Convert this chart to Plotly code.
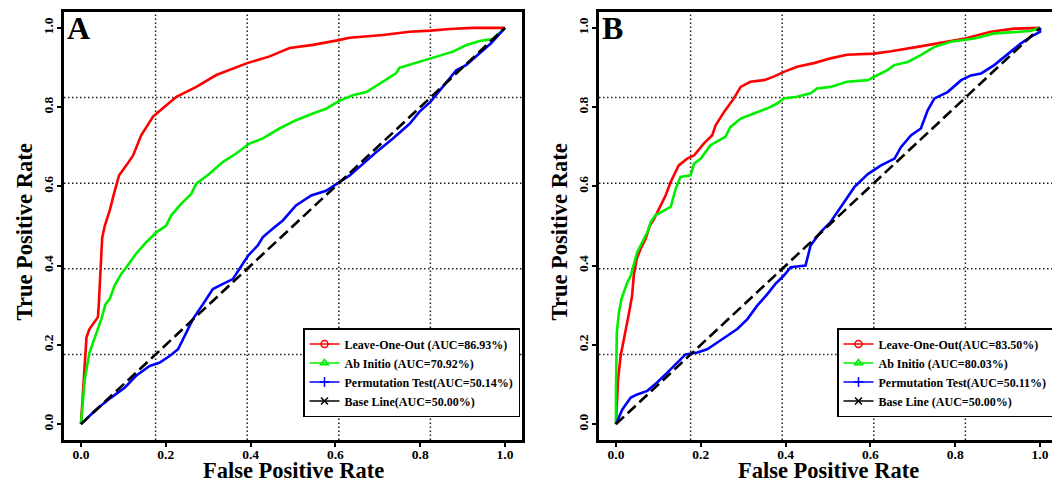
import plotly.graph_objects as go

# ---------------- data ----------------
TICKS = [0.0, 0.2, 0.4, 0.6, 0.8, 1.0]
TICK_TEXT = ["0.0", "0.2", "0.4", "0.6", "0.8", "1.0"]
AX_RANGE = [-0.04, 1.04]
GRID = [-0.04 + 1.08 * k / 5 for k in range(1, 5)]   # R grid(5,5) positions
X_TITLE = "False Positive Rate"
Y_TITLE = "True Positive Rate"

# Panel A
A_LOO_FPR = [0, 0.006, 0.013, 0.020, 0.032, 0.040, 0.042, 0.046, 0.050, 0.056, 0.068, 0.079, 0.090, 0.107,
             0.123, 0.142, 0.170, 0.193, 0.225, 0.272, 0.319, 0.392, 0.445, 0.492, 0.547, 0.608, 0.633,
             0.712, 0.775, 0.824, 0.869, 0.924, 1.0]
A_LOO_TPR = [0, 0.113, 0.219, 0.240, 0.260, 0.270, 0.300, 0.400, 0.470, 0.500, 0.540, 0.586, 0.628, 0.653,
             0.678, 0.729, 0.776, 0.797, 0.826, 0.851, 0.881, 0.911, 0.928, 0.949, 0.957, 0.969, 0.975,
             0.982, 0.990, 0.993, 0.997, 1.0, 1.0]
A_ABI_FPR = [0, 0.009, 0.020, 0.036, 0.048, 0.058, 0.068, 0.079, 0.095, 0.107, 0.130, 0.154, 0.178, 0.201,
             0.213, 0.236, 0.260, 0.272, 0.303, 0.335, 0.366, 0.397, 0.429, 0.468, 0.507, 0.547, 0.578,
             0.608, 0.641, 0.673, 0.704, 0.743, 0.751, 0.798, 0.824, 0.853, 0.877, 0.908, 0.940, 0.971, 1.0]
A_ABI_TPR = [0, 0.113, 0.180, 0.231, 0.265, 0.303, 0.316, 0.349, 0.379, 0.396, 0.430, 0.459, 0.484, 0.501,
             0.527, 0.556, 0.581, 0.607, 0.632, 0.662, 0.683, 0.708, 0.721, 0.746, 0.767, 0.784, 0.796,
             0.815, 0.830, 0.838, 0.859, 0.885, 0.899, 0.914, 0.923, 0.931, 0.940, 0.956, 0.967, 0.972, 1.0]
A_PERM_FPR = [0, 0.036, 0.071, 0.103, 0.130, 0.162, 0.185, 0.209, 0.229, 0.252, 0.264, 0.288, 0.311, 0.335,
              0.358, 0.374, 0.394, 0.417, 0.429, 0.452, 0.476, 0.507, 0.543, 0.578, 0.602, 0.633, 0.661,
              0.696, 0.735, 0.775, 0.798, 0.824, 0.853, 0.885, 0.908, 0.940, 0.967, 1.0]
A_PERM_TPR = [0, 0.037, 0.067, 0.092, 0.122, 0.147, 0.155, 0.172, 0.189, 0.240, 0.265, 0.303, 0.341, 0.354,
              0.366, 0.392, 0.425, 0.451, 0.472, 0.493, 0.514, 0.552, 0.577, 0.589, 0.606, 0.627, 0.653,
              0.686, 0.720, 0.758, 0.788, 0.813, 0.851, 0.893, 0.906, 0.935, 0.961, 1.0]
A_LABELS = ["Leave-One-Out (AUC=86.93%)", "Ab Initio (AUC=70.92%)",
            "Permutation Test(AUC=50.14%)", "Base Line(AUC=50.00%)"]

# Panel B
B_LOO_FPR = [0, 0.002, 0.005, 0.011, 0.019, 0.031, 0.038, 0.042, 0.049, 0.058, 0.070, 0.080, 0.090, 0.105,
             0.117, 0.129, 0.148, 0.168, 0.184, 0.207, 0.227, 0.235, 0.255, 0.278, 0.294, 0.317, 0.349,
             0.372, 0.396, 0.427, 0.467, 0.506, 0.545, 0.608, 0.649, 0.711, 0.758, 0.823, 0.884, 0.939, 1.0]
B_LOO_TPR = [0, 0.046, 0.113, 0.172, 0.214, 0.282, 0.324, 0.375, 0.417, 0.442, 0.468, 0.501, 0.518, 0.552,
             0.577, 0.611, 0.653, 0.670, 0.678, 0.708, 0.729, 0.754, 0.788, 0.822, 0.851, 0.864, 0.868,
             0.877, 0.889, 0.902, 0.911, 0.923, 0.932, 0.935, 0.941, 0.952, 0.961, 0.973, 0.990, 0.998, 1.0]
B_ABI_FPR = [0, 0.0, 0.002, 0.007, 0.013, 0.019, 0.027, 0.035, 0.041, 0.050, 0.062, 0.074, 0.082, 0.093,
             0.113, 0.129, 0.141, 0.152, 0.176, 0.184, 0.200, 0.223, 0.243, 0.258, 0.270, 0.294, 0.325,
             0.357, 0.380, 0.396, 0.427, 0.459, 0.474, 0.506, 0.545, 0.594, 0.617, 0.641, 0.656, 0.688,
             0.719, 0.751, 0.790, 0.845, 0.892, 0.939, 0.978, 1.0]
B_ABI_TPR = [0, 0.079, 0.231, 0.282, 0.316, 0.333, 0.358, 0.375, 0.400, 0.434, 0.459, 0.484, 0.510, 0.527,
             0.539, 0.548, 0.594, 0.624, 0.628, 0.657, 0.670, 0.704, 0.716, 0.725, 0.750, 0.771, 0.784,
             0.797, 0.809, 0.822, 0.826, 0.835, 0.847, 0.851, 0.864, 0.868, 0.881, 0.894, 0.906, 0.914,
             0.931, 0.952, 0.965, 0.973, 0.986, 0.990, 0.992, 1.0]
B_PERM_FPR = [0, 0.015, 0.035, 0.050, 0.074, 0.097, 0.121, 0.145, 0.164, 0.192, 0.215, 0.239, 0.262, 0.286,
              0.310, 0.333, 0.357, 0.376, 0.396, 0.412, 0.447, 0.459, 0.482, 0.506, 0.538, 0.562, 0.594,
              0.625, 0.657, 0.672, 0.696, 0.719, 0.735, 0.751, 0.782, 0.814, 0.837, 0.861, 0.892, 0.924,
              0.955, 0.979, 1.0, 1.0]
B_PERM_TPR = [0, 0.037, 0.067, 0.075, 0.084, 0.105, 0.130, 0.155, 0.176, 0.181, 0.189, 0.206, 0.223, 0.240,
              0.265, 0.299, 0.328, 0.354, 0.375, 0.396, 0.400, 0.451, 0.484, 0.510, 0.560, 0.598, 0.631,
              0.653, 0.670, 0.699, 0.729, 0.746, 0.792, 0.822, 0.838, 0.868, 0.880, 0.885, 0.906, 0.935,
              0.961, 0.978, 0.990, 1.0]
B_LABELS = ["Leave-One-Out(AUC=83.50%)", "Ab Initio (AUC=80.03%)",
            "Permutation Test(AUC=50.11%)", "Base Line (AUC=50.00%)"]

BASE_FPR = [0.0, 1.0]
BASE_TPR = [0.0, 1.0]

COLORS = ["#ff0000", "#00ee00", "#0000ff", "#000000"]
SYMBOLS = ["circle-open", "triangle-up-open", "cross-thin-open", "x-thin-open"]

FONT = "Liberation Serif"
# the page body has an 8px margin; the figure is sized so it ends at the window edge
OFF = 8
W, H = 1060 - OFF, 485 - OFF


def px_x(p):  # window pixel -> paper fraction
    return (p - OFF) / W


def px_y(p):  # window pixel (from top) -> paper fraction (from bottom)
    return (H - (p - OFF)) / H


fig = go.Figure()

panels = [
    dict(xa="x", ya="y", xt="x3", yt="y3", legend="legend", letter="A", ytitle_x=24,
         series=[(A_LOO_FPR, A_LOO_TPR), (A_ABI_FPR, A_ABI_TPR), (A_PERM_FPR, A_PERM_TPR)],
         labels=A_LABELS),
    dict(xa="x2", ya="y2", xt="x4", yt="y4", legend="legend2", letter="B", ytitle_x=559,
         series=[(B_LOO_FPR, B_LOO_TPR), (B_ABI_FPR, B_ABI_TPR), (B_PERM_FPR, B_PERM_TPR)],
         labels=B_LABELS),
]

for p in panels:
    for (fx, ty), col in zip(p["series"], COLORS):
        assert len(fx) == len(ty)
        fig.add_trace(go.Scatter(x=fx, y=ty, mode="lines", xaxis=p["xa"], yaxis=p["ya"],
                                 line=dict(color=col, width=2.6), showlegend=False, hoverinfo="skip"))
    fig.add_trace(go.Scatter(x=BASE_FPR, y=BASE_TPR, mode="lines", xaxis=p["xa"], yaxis=p["ya"],
                             line=dict(color="black", width=2.6, dash="11px,5px"),
                             showlegend=False, hoverinfo="skip"))
    # empty traces so the tick-mark overlay axes are drawn
    fig.add_trace(go.Scatter(x=[None], y=[None], xaxis=p["xt"], yaxis=p["ya"], showlegend=False))
    fig.add_trace(go.Scatter(x=[None], y=[None], xaxis=p["xa"], yaxis=p["yt"], showlegend=False))
    # legend entries (line + symbol, as in the R legend)
    for lab, col, sym in zip(p["labels"], COLORS, SYMBOLS):
        fig.add_trace(go.Scatter(x=[None], y=[None], mode="lines+markers", name=lab,
                                 xaxis=p["xa"], yaxis=p["ya"], legend=p["legend"],
                                 line=dict(color=col, width=1.5),
                                 marker=dict(symbol=sym, size=7, color=col, line=dict(color=col, width=1.5))))

# axes geometry (window-pixel frame of each panel)
A_X = [px_x(64), px_x(522)]
B_X = [px_x(599), px_x(1057)]
Y_DOM = [px_y(440), px_y(12)]

label_axis = dict(range=AX_RANGE, tickvals=TICKS, ticktext=TICK_TEXT, ticks="",
                  showline=True, linewidth=3, linecolor="black",
                  mirror=True, showgrid=False, zeroline=False, automargin=False,
                  tickfont=dict(family=FONT, size=13.5, color="black", weight="bold"))
tick_axis = dict(range=AX_RANGE, tickvals=TICKS, ticks="outside", ticklen=6, tickwidth=1.5,
                 tickcolor="black", showticklabels=False, showline=False, showgrid=False,
                 zeroline=False, automargin=False)
title_font = dict(family=FONT, size=22.5, color="black", weight="bold")

fig.update_layout(
    xaxis=dict(domain=A_X, anchor="y", ticklabelstandoff=0, **label_axis),
    yaxis=dict(domain=Y_DOM, anchor="x", tickangle=-90, ticklabelstandoff=3, **label_axis),
    xaxis2=dict(domain=B_X, anchor="y2", ticklabelstandoff=0, **label_axis),
    yaxis2=dict(domain=Y_DOM, anchor="x2", tickangle=-90, ticklabelstandoff=3, **label_axis),
    xaxis3=dict(overlaying="x", anchor="y", side="bottom", **tick_axis),
    yaxis3=dict(overlaying="y", anchor="x", side="left", **tick_axis),
    xaxis4=dict(overlaying="x2", anchor="y2", side="bottom", **tick_axis),
    yaxis4=dict(overlaying="y2", anchor="x2", side="left", **tick_axis),
)

# dotted grid as in R grid(5, 5)
shapes = []
for xa, ya in [("x", "y"), ("x2", "y2")]:
    for g in GRID:
        shapes.append(dict(type="line", xref=xa, yref=ya + " domain", x0=g, x1=g, y0=0, y1=1,
                           line=dict(color="#222222", width=1.5, dash="1.5px,2.5px"), layer="below"))
        shapes.append(dict(type="line", xref=xa + " domain", yref=ya, x0=0, x1=1, y0=g, y1=g,
                           line=dict(color="#222222", width=1.5, dash="1.5px,2.5px"), layer="below"))
fig.update_layout(shapes=shapes)

for p in panels:
    # panel letter
    fig.add_annotation(text=p["letter"], xref=p["xa"] + " domain", yref=p["ya"] + " domain",
                       x=0.003, y=1.01, xanchor="left", yanchor="top", showarrow=False,
                       font=dict(family=FONT, size=32, color="black", weight="bold"))
    # axis titles
    fig.add_annotation(text=X_TITLE, xref=p["xa"] + " domain", yref="paper", x=0.5, y=px_y(470.5),
                       xanchor="center", yanchor="middle", showarrow=False, borderpad=0,
                       font=title_font)
    fig.add_annotation(text=Y_TITLE, xref="paper", yref=p["ya"] + " domain", x=px_x(p["ytitle_x"]),
                       y=0.485, xanchor="center", yanchor="middle", textangle=-90, borderpad=0,
                       showarrow=False, font=title_font)

legend_common = dict(bgcolor="white", bordercolor="black", borderwidth=1.5,
                     font=dict(family=FONT, size=12, color="black", weight="bold"),
                     xanchor="right", yanchor="bottom", tracegroupgap=0, itemwidth=30,
                     traceorder="normal")
fig.update_layout(
    legend=dict(x=px_x(520), y=px_y(417), **legend_common),
    legend2=dict(x=px_x(1053), y=px_y(417), **legend_common),
    width=W, height=H, margin=dict(l=0, r=0, t=0, b=0),
    paper_bgcolor="white", plot_bgcolor="white",
)

fig.write_html("out.html")
